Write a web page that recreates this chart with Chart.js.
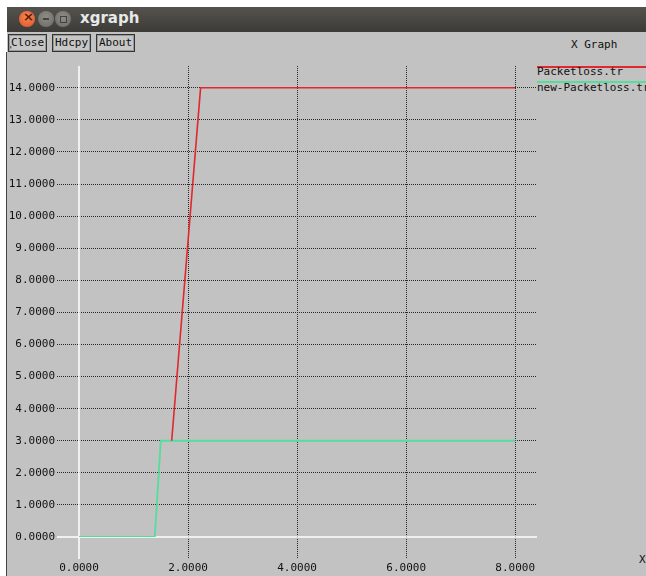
<!DOCTYPE html>
<html>
<head>
<meta charset="utf-8">
<script src="https://cdn.jsdelivr.net/npm/chart.js@4"></script>
<style>
  html, body { margin: 0; padding: 0; background: #fff; }
  body { width: 646px; height: 576px; position: relative; overflow: hidden; font-family: "DejaVu Sans Mono", monospace; }
  #win { position: absolute; left: 7px; top: 7px; width: 639px; height: 569px; background: #c2c2c2; }
  #titlebar { position: absolute; left: 0; top: 0; width: 100%; height: 25px;
    background: linear-gradient(#55534e, #3c3b37); }
  .dot { position: absolute; top: 4px; width: 16px; height: 16px; border-radius: 50%; }
  #t-close { left: 12px; background: radial-gradient(circle at 50% 40%, #f48a5c, #e0501f); }
  #t-min { left: 31px; background: radial-gradient(circle at 50% 40%, #8f8d87, #6b6964); }
  #t-max { left: 48px; background: radial-gradient(circle at 50% 40%, #8f8d87, #6b6964); }
  #t-close::after { content: "×"; position: absolute; left: 4px; top: -2px; font: bold 13px "DejaVu Sans"; color: #5a1a05; }
  #t-min::after { content: ""; position: absolute; left: 5px; top: 7px; width: 6px; height: 2px; background: #45433f; }
  #t-max::after { content: ""; position: absolute; left: 5px; top: 5px; width: 5px; height: 5px; border: 1px solid #45433f; }
  #title { position: absolute; left: 73px; top: 2px; font: bold 15px "DejaVu Sans", sans-serif; color: #e8e8e8; }
  .btn { position: absolute; top: 27px; height: 16px; line-height: 16px; padding: 0 2px; font-size: 11px; color: #111;
    border: 1px solid #333; box-shadow: inset 0 0 0 1px #999; background: #c6c6c6; }
  #leftline { position: absolute; left: 6px; top: 52px; width: 1px; height: 524px; background: #444; }
  #gtitle { position: absolute; left: 571px; top: 38px; font-size: 11px; color: #111; }
  .leg { position: absolute; left: 537px; font-size: 11px; color: #111; white-space: nowrap; }
  .legline { position: absolute; left: 537px; width: 109px; height: 2px; }
  #xunit { position: absolute; left: 639px; top: 553px; font-size: 11px; color: #111; }
  #yunit { position: absolute; left: 8px; top: 45px; font-size: 9px; color: #111; }
  #c { position: absolute; left: 0; top: 0; }
</style>
</head>
<body>
<div id="win">
  <div id="titlebar">
    <div class="dot" id="t-close"></div>
    <div class="dot" id="t-min"></div>
    <div class="dot" id="t-max"></div>
    <div id="title">xgraph</div>
  </div>
  <div class="btn" style="left:1px">Close</div>
  <div class="btn" style="left:45px">Hdcpy</div>
  <div class="btn" style="left:89px">About</div>
</div>
<div id="leftline"></div>
<div id="yunit">'</div>
<div id="gtitle">X Graph</div>
<div id="legend"></div>
<div id="xunit">X</div>
<canvas id="c" width="646" height="576"></canvas>
<script>
// --- data ---
const seriesNames = ['Packetloss.tr', 'new-Packetloss.tr'];
const seriesColors = ['#e0282e', '#55dd9c'];
const redX = [1.70, 2.23, 8.0];
const redY = [3, 14, 14];
const greenX = [0, 1.39, 1.50, 8.0];
const greenY = [0, 0, 3, 3];
const xTicks = [0, 2, 4, 6, 8];
const yTicks = [0, 1, 2, 3, 4, 5, 6, 7, 8, 9, 10, 11, 12, 13, 14];

const toPoints = (xs, ys) => xs.map((x, i) => ({ x: x, y: ys[i] }));

// legend built from the series names/colours
const legend = document.getElementById('legend');
seriesNames.forEach((name, i) => {
    const line = document.createElement('div');
    line.className = 'legline';
    line.style.top = (66 + i * 15) + 'px';
    line.style.background = seriesColors[i];
    legend.appendChild(line);
    const txt = document.createElement('div');
    txt.className = 'leg';
    txt.style.top = (65 + i * 16) + 'px';
    txt.textContent = name;
    legend.appendChild(txt);
});

// white zero axes like xgraph draws them
const zeroLines = {
    id: 'zeroLines',
    beforeDatasetsDraw(chart) {
        const { ctx, chartArea, scales } = chart;
        const x0 = scales.x.getPixelForValue(0);
        const y0 = scales.y.getPixelForValue(0);
        ctx.save();
        ctx.strokeStyle = '#ffffff';
        ctx.lineWidth = 1.5;
        ctx.beginPath();
        ctx.moveTo(chartArea.left - 22, y0);
        ctx.lineTo(chartArea.right, y0);
        ctx.moveTo(x0, chartArea.top);
        ctx.lineTo(x0, chartArea.bottom + 22);
        ctx.stroke();
        ctx.restore();
    }
};

const gridColor = (ctx) => (ctx.tick && ctx.tick.value === 0) ? 'rgba(0,0,0,0)' : '#2a2a2a';
const tickFont = { family: 'DejaVu Sans Mono', size: 11 };

new Chart(document.getElementById('c'), {
    type: 'scatter',
    data: {
        datasets: [
            {
                label: seriesNames[0],
                data: toPoints(redX, redY),
                showLine: true,
                borderColor: seriesColors[0],
                borderWidth: 1.6,
                pointRadius: 0,
                tension: 0
            },
            {
                label: seriesNames[1],
                data: toPoints(greenX, greenY),
                showLine: true,
                borderColor: seriesColors[1],
                borderWidth: 1.8,
                pointRadius: 0,
                tension: 0
            }
        ]
    },
    options: {
        responsive: false,
        animation: false,
        layout: { padding: { left: 0, right: 109, top: 66, bottom: 0 } },
        plugins: { legend: { display: false }, tooltip: { enabled: false } },
        scales: {
            x: {
                type: 'linear',
                min: 0,
                max: 8.4,
                afterBuildTicks: (s) => { s.ticks = xTicks.map(v => ({ value: v })); },
                afterFit: (s) => { s.height = 39; },
                ticks: { callback: v => Number(v).toFixed(4), color: '#111', font: tickFont, padding: 3, maxRotation: 0 },
                grid: { color: gridColor, tickColor: gridColor, tickLength: 22, lineWidth: 1, tickBorderDash: [1, 1] },
                border: { display: false, dash: [1, 1] }
            },
            y: {
                type: 'linear',
                min: 0,
                max: 14.68,
                afterBuildTicks: (s) => { s.ticks = yTicks.map(v => ({ value: v })); },
                afterFit: (s) => { s.width = 79; },
                ticks: { callback: v => Number(v).toFixed(4), color: '#111', font: tickFont, padding: 2 },
                grid: { color: gridColor, tickColor: gridColor, tickLength: 22, lineWidth: 1, tickBorderDash: [1, 1] },
                border: { display: false, dash: [1, 1] }
            }
        }
    },
    plugins: [zeroLines]
});
</script>
</body>
</html>
